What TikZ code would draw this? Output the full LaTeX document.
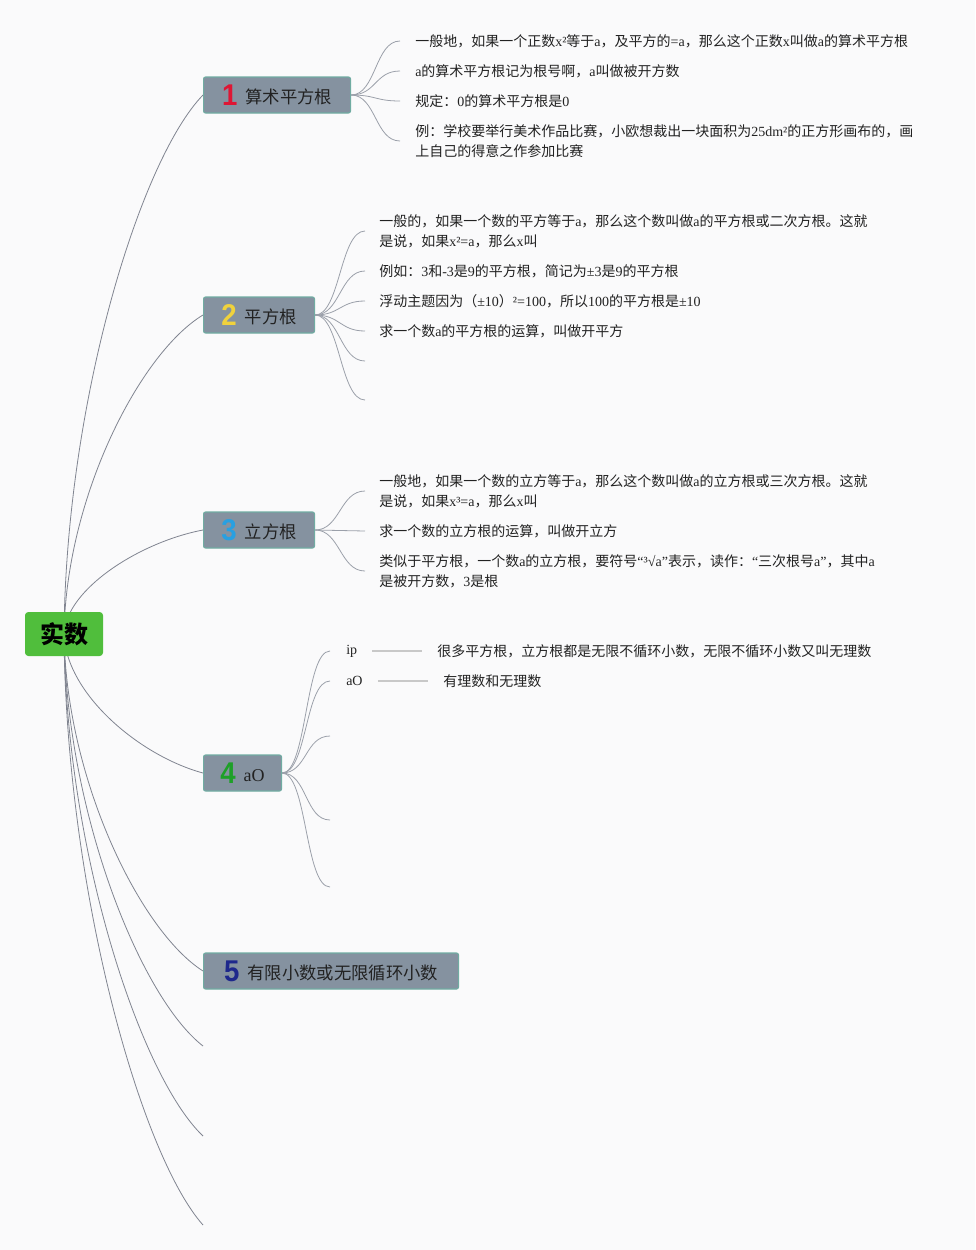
\documentclass[tikz,border=0pt]{standalone}
\usepackage{fontspec}
\usepackage{graphicx}
\setmainfont{Liberation Serif}
\setsansfont{Liberation Sans}
\newfontfamily\cjk{Noto Sans CJK SC}
\XeTeXinterchartokenstate=1
\newXeTeXintercharclass\CJKcls
\newcount\cc
\cc="3000 \loop \XeTeXcharclass\cc=\CJKcls \ifnum\cc<"303F \advance\cc by 1 \repeat
\cc="4E00 \loop \XeTeXcharclass\cc=\CJKcls \ifnum\cc<"9FFF \advance\cc by 1 \repeat
\cc="FF00 \loop \XeTeXcharclass\cc=\CJKcls \ifnum\cc<"FFEF \advance\cc by 1 \repeat
\XeTeXinterchartoks 0 \CJKcls = {\cjk}
\XeTeXinterchartoks 4095 \CJKcls = {\cjk}
\XeTeXinterchartoks \CJKcls 0 = {\rmfamily}
\definecolor{bgc}{RGB}{250,250,251}
\definecolor{nodefill}{RGB}{133,146,160}
\definecolor{nodeborder}{RGB}{112,172,162}
\definecolor{rootgreen}{RGB}{80,190,60}
\definecolor{textdark}{RGB}{34,34,34}
\definecolor{rootline}{RGB}{128,132,144}
\definecolor{subline}{RGB}{155,160,170}
\definecolor{hline}{RGB}{200,200,200}
\definecolor{dred}{RGB}{222,22,52}
\definecolor{dyellow}{RGB}{240,210,60}
\definecolor{dblue}{RGB}{40,160,225}
\definecolor{dgreen}{RGB}{30,160,40}
\definecolor{dnavy}{RGB}{30,40,140}
\newcommand{\numicon}[2]{\raisebox{-1.4pt}{\scalebox{0.92}[1]{\sffamily\bfseries\fontsize{22.5pt}{22.5pt}\selectfont\color{#1}#2}}\hspace{6pt}}
\pgfdeclarelayer{bg}
\pgfsetlayers{bg,main}
\begin{document}
\begin{tikzpicture}[x=0.75pt,y=-0.75pt,
  branch/.style={draw=nodeborder, fill=nodefill, rounded corners=1.5pt, minimum height=27pt, anchor=west, inner xsep=0pt, inner ysep=0pt, font=\fontsize{13pt}{15pt}\selectfont, text=textdark, line width=0.8pt},
  rootbox/.style={fill=rootgreen, rounded corners=2.5pt, minimum width=58.5pt, minimum height=33pt, inner sep=0pt, font=\fontsize{18pt}{18pt}\selectfont\bfseries, text=black},
  leaf/.style={anchor=west, inner sep=0pt, font=\fontsize{10.5pt}{15pt}\selectfont, text=textdark, align=left},
  rootcurve/.style={draw=rootline, line width=0.6pt},
  subcurve/.style={draw=subline, line width=0.6pt},
  hconn/.style={draw=hline, line width=1.4pt, shorten <=11.25pt, shorten >=11.25pt}
]
\useasboundingbox (0,0) rectangle (975,1250);
\begin{pgfonlayer}{bg}
\fill[bgc] (0,0) rectangle (975,1250);
\end{pgfonlayer}

% root and branches
\node[rootbox] (root) at (64,634) {实数};
\node[branch, minimum width=110.25pt] (n1) at (203,95) {\numicon{dred}{1}算术平方根};
\node[branch, minimum width=83.25pt] (n2) at (203,315) {\numicon{dyellow}{2}平方根};
\node[branch, minimum width=83.25pt] (n3) at (203,530) {\numicon{dblue}{3}立方根};
\node[branch, minimum width=58.5pt] (n4) at (203,773) {\numicon{dgreen}{4}{\fontsize{13.5pt}{15pt}\selectfont aO}};
\node[branch, minimum width=191.25pt] (n5) at (203,971) {\numicon{dnavy}{5}有限小数或无限循环小数};
\coordinate (e6) at (203,1046);
\coordinate (e7) at (203,1136);
\coordinate (e8) at (203,1225);

% leaves of 1
\node[leaf] (t11) at (415,41) {一般地，如果一个正数x²等于a，及平方的=a，那么这个正数x叫做a的算术平方根};
\node[leaf] (t12) at (415,71) {a的算术平方根记为根号啊，a叫做被开方数};
\node[leaf] (t13) at (415,101) {规定：0的算术平方根是0};
\node[leaf] (t14) at (415,141) {例：学校要举行美术作品比赛，小欧想裁出一块面积为25dm²的正方形画布的，画\\上自己的得意之作参加比赛};
\coordinate (c11) at (400,41);
\coordinate (c12) at (400,71);
\coordinate (c13) at (400,101);
\coordinate (c14) at (400,141);

% leaves of 2
\node[leaf] (t21) at (379,231) {一般的，如果一个数的平方等于a，那么这个数叫做a的平方根或二次方根。这就\\是说，如果x²=a，那么x叫};
\node[leaf] (t22) at (379,271) {例如：3和-3是9的平方根，简记为±3是9的平方根};
\node[leaf] (t23) at (379,301) {浮动主题因为（±10）²=100，所以100的平方根是±10};
\node[leaf] (t24) at (379,331) {求一个数a的平方根的运算，叫做开平方};
\coordinate (c21) at (365,231);
\coordinate (c22) at (365,271);
\coordinate (c23) at (365,301);
\coordinate (c24) at (365,331);
\coordinate (c25) at (365,361);
\coordinate (c26) at (365,400);

% leaves of 3
\node[leaf] (t31) at (379,491) {一般地，如果一个数的立方等于a，那么这个数叫做a的立方根或三次方根。这就\\是说，如果x³=a，那么x叫};
\node[leaf] (t32) at (379,531) {求一个数的立方根的运算，叫做开立方};
\node[leaf] (t33) at (379,571) {类似于平方根，一个数a的立方根，要符号“³√a"表示，读作：“三次根号a”，其中a\\是被开方数，3是根};
\coordinate (c31) at (365,491);
\coordinate (c32) at (365,531);
\coordinate (c33) at (365,571);

% leaves of 4
\node[leaf] (ip) at (346,651) {ip};
\node[leaf] (ao) at (346,681) {aO};
\node[leaf] (t41) at (437,651) {很多平方根，立方根都是无限不循环小数，无限不循环小数又叫无理数};
\node[leaf] (t42) at (443,681) {有理数和无理数};
\coordinate (c41) at (330,651);
\coordinate (c42) at (330,681);
\coordinate (c43) at (330,736);
\coordinate (c44) at (330,820);
\coordinate (c45) at (330,887);

\begin{pgfonlayer}{bg}
% root curves
\draw[rootcurve] (root.center) .. controls (66,402) and (140,160) .. (n1.west);
\draw[rootcurve] (root.center) .. controls (66,497) and (140,353) .. (n2.west);
\draw[rootcurve] (root.center) .. controls (66,589) and (140,542) .. (n3.west);
\draw[rootcurve] (root.center) .. controls (66,694) and (140,756) .. (n4.west);
\draw[rootcurve] (root.center) .. controls (66,779) and (140,931) .. (n5.west);
\draw[rootcurve] (root.center) .. controls (66,811) and (140,997) .. (e6);
\draw[rootcurve] (root.center) .. controls (66,850) and (140,1076) .. (e7);
\draw[rootcurve] (root.center) .. controls (66,888) and (140,1154) .. (e8);
% sub curves
\foreach \c in {c11,c12,c13,c14}
  \draw[subcurve] (n1.east) .. controls +(25,0) and +(-25,0) .. (\c);
\foreach \c in {c21,c22,c23,c24,c25,c26}
  \draw[subcurve] (n2.east) .. controls +(25,0) and +(-25,0) .. (\c);
\foreach \c in {c31,c32,c33}
  \draw[subcurve] (n3.east) .. controls +(25,0) and +(-25,0) .. (\c);
\foreach \c in {c41,c42,c43,c44,c45}
  \draw[subcurve] (n4.east) .. controls +(25,0) and +(-25,0) .. (\c);
\end{pgfonlayer}
\draw[hconn] (ip.east) -- (t41.west);
\draw[hconn] (ao.east) -- (t42.west);
\end{tikzpicture}
\end{document}
